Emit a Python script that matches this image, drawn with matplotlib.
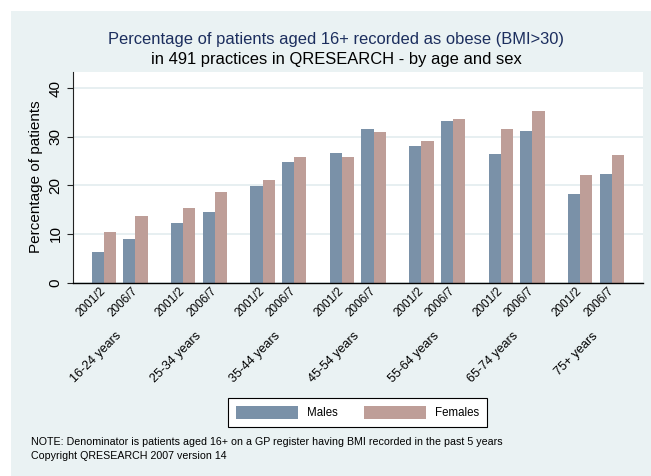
import numpy as np
import matplotlib
matplotlib.use("Agg")
import matplotlib.pyplot as plt
from matplotlib.patches import Rectangle

# data
age_groups = ['16-24 years', '25-34 years', '35-44 years', '45-54 years',
              '55-64 years', '65-74 years', '75+ years']
periods = ['2001/2', '2006/7']
males_2001 = [6.2, 12.2, 19.9, 26.7, 28.0, 26.4, 18.3]
males_2006 = [8.9, 14.4, 24.7, 31.6, 33.3, 31.1, 22.4]
females_2001 = [10.4, 15.3, 21.0, 25.8, 29.1, 31.5, 22.1]
females_2006 = [13.7, 18.6, 25.8, 30.9, 33.6, 35.2, 26.3]
y_ticks = [0, 10, 20, 30, 40]

plt.rcParams['font.family'] = ['Liberation Sans', 'DejaVu Sans']

male_col = '#7A91A8'
female_col = '#BE9E98'
bg_col = '#EAF2F3'

fig = plt.figure(figsize=(6.51, 4.76), dpi=100, facecolor='white')
# light panel behind everything, leaving a thin white margin top/left
fig.add_artist(Rectangle((11 / 651, 0), 1 - 11 / 651, (476 - 11) / 476,
                         transform=fig.transFigure, facecolor=bg_col,
                         edgecolor='none', zorder=-10))

ax = fig.add_axes([73 / 651, 193.5 / 476, (642.7 - 73) / 651, 211 / 476])
ax.set_facecolor('white')

bw = 1.0
group_step = 6.53
pair_step = 2.6
g = np.arange(len(age_groups)) * group_step
centers_2001 = g
centers_2006 = g + pair_step

ax.bar(centers_2001 - bw / 2, males_2001, bw, color=male_col, label='Males')
ax.bar(centers_2001 + bw / 2, females_2001, bw, color=female_col, label='Females')
ax.bar(centers_2006 - bw / 2, males_2006, bw, color=male_col)
ax.bar(centers_2006 + bw / 2, females_2006, bw, color=female_col)

ax.set_xlim(-2.54, g[-1] + pair_step + 2.54)
ax.set_ylim(0, 43.4)

ax.set_yticks(y_ticks)
ax.set_yticklabels([str(t) for t in y_ticks], rotation=90, va='center', fontsize=11)
ax.tick_params(axis='y', length=4, width=0.8, pad=3.5, color='#222222')
ax.yaxis.grid(True, color='#E3ECEF', linewidth=1.2)
ax.set_axisbelow(True)

# period labels under each pair of bars
xt = np.concatenate([centers_2001, centers_2006])
xl = [periods[0]] * len(g) + [periods[1]] * len(g)
ax.set_xticks(xt)
ax.set_xticklabels(xl, fontsize=8.5)
ax.tick_params(axis='x', length=0, pad=5.0)
for lab in ax.get_xticklabels():
    lab.set_rotation(45)
    lab.set_ha('right')
    lab.set_va('center')
    lab.set_rotation_mode('anchor')

# age group labels below
for x, name in zip(g + pair_step / 2, age_groups):
    ax.text(x, -0.246, name, transform=ax.get_xaxis_transform(), rotation=45,
            rotation_mode='anchor', ha='right', va='center', fontsize=9)

ax.set_ylabel('Percentage of patients', fontsize=11)
ax.yaxis.set_label_coords(-0.052, 0.5)

for s in ['top', 'right']:
    ax.spines[s].set_visible(False)
ax.spines['left'].set_linewidth(0.8)
ax.spines['bottom'].set_linewidth(1.0)
ax.spines['left'].set_color('#222222')
ax.spines['bottom'].set_color('black')

fig.text(336 / 651, 0.916, 'Percentage of patients aged 16+ recorded as obese (BMI>30)',
         ha='center', va='center', fontsize=11.9, color='#1C2E5E')
fig.text(336 / 651, 0.874, 'in 491 practices in QRESEARCH - by age and sex',
         ha='center', va='center', fontsize=11.9, color='black')

leg = fig.legend(loc='center', bbox_to_anchor=(357.5 / 651, 0.1334), ncol=2,
                 fontsize=8.3, handlelength=5.4, handleheight=1.45,
                 handletextpad=0.75, columnspacing=2.3, borderpad=0.68,
                 fancybox=False, framealpha=1, edgecolor='black')
leg.get_frame().set_linewidth(0.8)

fig.text(30.7 / 651, 0.072,
         'NOTE: Denominator is patients aged 16+ on a GP register having BMI recorded in the past 5 years',
         ha='left', va='center', fontsize=7.65)
fig.text(30.7 / 651, 0.0426, 'Copyright QRESEARCH 2007 version 14',
         ha='left', va='center', fontsize=7.65)

fig.savefig('out.png', dpi=100, facecolor='white')
